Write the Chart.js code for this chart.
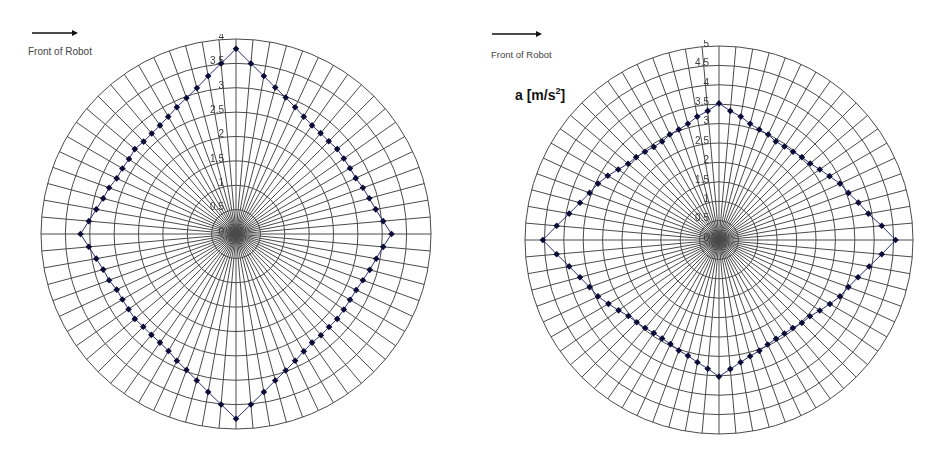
<!DOCTYPE html>
<html>
<head>
<meta charset="utf-8">
<script src="https://cdn.jsdelivr.net/npm/chart.js@4.4.1/dist/chart.umd.min.js"></script>
<style>
  body { margin: 0; background: #fff; width: 945px; height: 465px; position: relative; overflow: hidden; font-family: "Liberation Sans", Arial, sans-serif; }
  canvas { position: absolute; }
  #leftChart { left: 36px; top: 34px; }
  #rightChart { left: 519px; top: 40px; }
  .front { position: absolute; color: #444; }
  .arrow { position: absolute; }
  .unit { position: absolute; font-weight: bold; font-size: 14px; color: #111; }
  .unit sup { font-size: 9px; }
</style>
</head>
<body>
<svg class="arrow" style="left:30px;top:28px" width="50" height="10"><line x1="2" y1="5" x2="44" y2="5" stroke="#111" stroke-width="1.3"/><polygon points="42,2 48,5 42,8" fill="#111"/></svg>
<div class="front" style="left:28px;top:46px;font-size:10px">Front of Robot</div>
<svg class="arrow" style="left:490px;top:29px" width="55" height="10"><line x1="2" y1="5" x2="48" y2="5" stroke="#111" stroke-width="1.3"/><polygon points="46,2 52,5 46,8" fill="#111"/></svg>
<div class="front" style="left:491px;top:49px;font-size:9.5px">Front of Robot</div>
<div class="unit" style="left:515px;top:86px">a [m/s<sup>2</sup>]</div>

<canvas id="leftChart" width="400" height="400"></canvas>
<canvas id="rightChart" width="400" height="400"></canvas>

<script>
// direction of travel in degrees, clockwise from the front of the robot
const angles = ['0', '5', '10', '15', '20', '25', '30', '35', '40', '45', '50', '55',
     '60', '65', '70', '75', '80', '85', '90', '95', '100', '105', '110', '115',
     '120', '125', '130', '135', '140', '145', '150', '155', '160', '165', '170', '175',
     '180', '185', '190', '195', '200', '205', '210', '215', '220', '225', '230', '235',
     '240', '245', '250', '255', '260', '265', '270', '275', '280', '285', '290', '295',
     '300', '305', '310', '315', '320', '325', '330', '335', '340', '345', '350', '355']

const leftValues = [3.80, 3.51, 3.29, 3.11, 2.98, 2.87, 2.78, 2.72, 2.70, 2.69, 2.71, 2.70,
     2.70, 2.71, 2.77, 2.83, 2.91, 3.03, 3.19, 3.03, 2.92, 2.84, 2.77, 2.72,
     2.70, 2.70, 2.71, 2.70, 2.71, 2.72, 2.78, 2.87, 2.98, 3.11, 3.29, 3.51,
     3.79, 3.51, 3.29, 3.11, 2.97, 2.87, 2.77, 2.72, 2.70, 2.69, 2.71, 2.69,
     2.69, 2.70, 2.77, 2.82, 2.91, 3.03, 3.19, 3.03, 2.91, 2.82, 2.77, 2.70,
     2.69, 2.68, 2.71, 2.68, 2.69, 2.72, 2.78, 2.87, 2.97, 3.10, 3.29, 3.51]

const rightValues = [3.52, 3.34, 3.23, 3.10, 3.03, 3.00, 2.93, 2.94, 2.97, 3.02, 3.07, 3.17,
     3.29, 3.44, 3.55, 3.72, 3.91, 4.21, 4.55, 4.21, 3.93, 3.71, 3.55, 3.44,
     3.30, 3.17, 3.06, 3.02, 2.96, 2.94, 2.94, 2.97, 3.04, 3.10, 3.20, 3.34,
     3.52, 3.33, 3.20, 3.09, 3.03, 2.96, 2.93, 2.93, 2.96, 3.00, 3.05, 3.16,
     3.29, 3.44, 3.55, 3.71, 3.92, 4.20, 4.54, 4.20, 3.92, 3.71, 3.55, 3.44,
     3.31, 3.17, 3.06, 3.02, 2.97, 2.93, 2.93, 3.00, 3.03, 3.10, 3.23, 3.34]

const leftTicks = ['0', '0.5', '1', '1.5', '2', '2.5', '3', '3.5', '4']
const rightTicks = ['0', '0.5', '1', '1.5', '2', '2.5', '3', '3.5', '4', '4.5', '5']

// tick labels sit just left of the vertical spoke, like the original
const tickLabels = {
     id: 'tickLabels',
     beforeDatasetsDraw(chart, args, opts) {
          const r = chart.scales.r
          const ctx = chart.ctx
          ctx.save()
          ctx.font = '10px "Liberation Sans", Arial, sans-serif'
          ctx.fillStyle = '#3a3a3a'
          ctx.textAlign = 'right'
          ctx.textBaseline = 'middle'
          opts.labels.forEach(t => {
               const d = r.getDistanceFromCenterForValue(parseFloat(t))
               ctx.fillText(t, r.xCenter - opts.dx, r.yCenter - d - 2)
          })
          ctx.restore()
     }
}

const makeRadar = function (canvas, values, ticks, pad, dx) {
     return new Chart(canvas, {
          type: 'radar',
          data: {
               labels: angles,
               datasets: [{
                    data: values,
                    borderColor: '#2b2b78',
                    borderWidth: 1,
                    fill: false,
                    tension: 0,
                    pointStyle: 'rectRot',
                    pointRadius: 3.3,
                    pointBorderWidth: 0,
                    pointBackgroundColor: '#0c0c38'
               }]
          },
          options: {
               responsive: false,
               animation: false,
               layout: { padding: pad },
               plugins: {
                    legend: { display: false },
                    tooltip: { enabled: false },
                    tickLabels: { labels: ticks, dx: dx }
               },
               scales: {
                    r: {
                         min: 0,
                         max: parseFloat(ticks[ticks.length - 1]),
                         ticks: { stepSize: 0.5, display: false },
                         grid: { circular: true, color: '#4a4a4a', lineWidth: 1 },
                         angleLines: { display: true, color: '#4a4a4a', lineWidth: 1 },
                         pointLabels: { display: false }
                    }
               }
          },
          plugins: [tickLabels]
     })
}

makeRadar(document.getElementById('leftChart'), leftValues, leftTicks, 5, 12)
makeRadar(document.getElementById('rightChart'), rightValues, rightTicks, 6, 10)
</script>
</body>
</html>
